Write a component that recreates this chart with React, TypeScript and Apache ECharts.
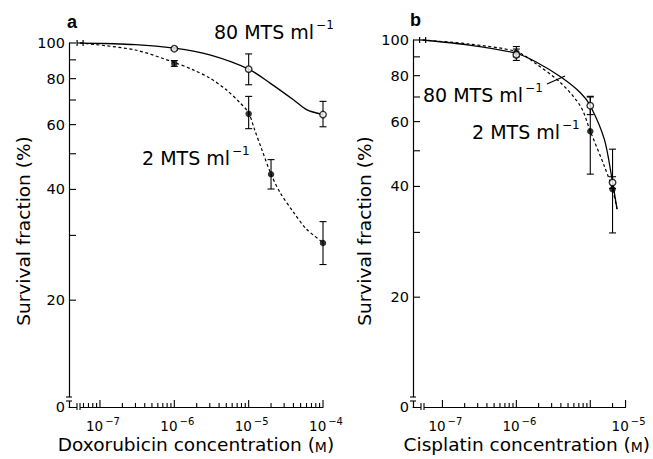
import React, { useEffect, useRef } from "react";
import * as echarts from "echarts";

const FONT = "DejaVu Sans";
const BLACK = "#000";

// Control (no drug) point drawn at the axis break
const CONTROL_X = 5.4e-8;
const CONTROL_Y = 100;

// ---------- Panel a: Doxorubicin ----------
const doxo80X = [1e-6, 1e-5, 1e-4];
const doxo80Y = [96.5, 84.9, 63.9];
const doxo80Lo = [95.7, 77.0, 59.2];
const doxo80Hi = [97.3, 93.4, 69.4];

const doxo2X = [1e-6, 1e-5, 2e-5, 1e-4];
const doxo2Y = [88.0, 64.2, 44.0, 28.6];
const doxo2Lo = [86.4, 58.5, 40.1, 25.0];
const doxo2Hi = [89.6, 71.6, 48.2, 32.7];

// fitted curves
const doxo80CurveX = [5.4e-8, 3e-7, 1e-6, 3e-6, 1e-5, 1.94e-5, 4e-5, 6e-5, 1e-4];
const doxo80CurveY = [100, 99, 96.8, 92.8, 84.9, 77.8, 70.1, 65.9, 63.9];
const doxo2CurveX = [5.4e-8, 3e-7, 1e-6, 1.8e-6, 3e-6, 5e-6, 7.7e-6, 1e-5, 1.2e-5, 1.5e-5, 2e-5, 2.65e-5, 4e-5, 6e-5, 1e-4];
const doxo2CurveY = [100, 95.7, 88.5, 84.5, 80.3, 74.6, 68.7, 64.6, 58.2, 51.4, 44.0, 39.2, 34.7, 31.2, 28.7];

// ---------- Panel b: Cisplatin ----------
const cis80X = [1e-6, 1e-5, 2e-5];
const cis80Y = [91.2, 66.3, 41.0];
const cis80Lo = [88, 62.7, 39.5];
const cis80Hi = [94.5, 70.3, 42.5];

const cis2X = [1e-6, 1e-5, 2e-5];
const cis2Y = [92.5, 56.5, 39.3];
const cis2Lo = [90, 43.2, 29.9];
const cis2Hi = [96, 70, 50.5];

const cis80CurveX = [5.4e-8, 2.3e-7, 1e-6, 1.8e-6, 4e-6, 7.4e-6, 1e-5, 1.55e-5, 2e-5, 2.3e-5];
const cis80CurveY = [100, 96.9, 92, 87.4, 79.3, 71.8, 66.3, 53.7, 41.1, 34.7];
const cis2CurveX = [5.4e-8, 2.3e-7, 1e-6, 1.8e-6, 4e-6, 7.4e-6, 1e-5, 1.55e-5, 2e-5, 2.3e-5];
const cis2CurveY = [100, 97.5, 93, 86.5, 76.4, 66, 56.5, 45.4, 39.3, 34.7];

// ---------- Axes ----------
const yMajorTicks = [20, 40, 60, 80, 100];
const yMinorTicks = [30, 50, 70, 90];
const TICK_MULTS = [2, 3, 4, 5, 6, 7, 8, 9];

const doxoXMin = 3.83e-8;
const doxoXMax = 1e-4;
const doxoYMin = 10.25;
const doxoMajorTicks = [1e-7, 1e-6, 1e-5, 1e-4];
const doxoMinorTicks = [6e-8, 7e-8, 8e-8, 9e-8].concat(
  [-7, -6, -5].flatMap((d) => TICK_MULTS.map((m) => m * Math.pow(10, d)))
);
const doxoLabelAt = [1e-7, 1e-6, 1e-5, 1e-4];
const doxoLabelExp = [-7, -6, -5, -4];

const cisXMin = 4e-8;
const cisXMax = 3e-5;
const cisYMin = 10.06;
const cisMajorTicks = [1e-7, 1e-6, 1e-5, 3e-5];
const cisMinorTicks = [-7, -6]
  .flatMap((d) => TICK_MULTS.map((m) => m * Math.pow(10, d)))
  .concat([2e-5]);
// as in the original figure, the "10^-5" label sits at the end of the axis
const cisLabelAt = [1e-7, 1e-6, 3e-5];
const cisLabelExp = [-7, -6, -5];

type Panel = {
  xMin: number;
  xMax: number;
  yMin: number;
  c80X: number[];
  c80Y: number[];
  c2X: number[];
  c2Y: number[];
  p80X: number[];
  p80Y: number[];
  p80Lo: number[];
  p80Hi: number[];
  p2X: number[];
  p2Y: number[];
  p2Lo: number[];
  p2Hi: number[];
  major: number[];
  minor: number[];
  labelAt: number[];
  labelExp: number[];
};

const panelA: Panel = {
  xMin: doxoXMin, xMax: doxoXMax, yMin: doxoYMin,
  c80X: doxo80CurveX, c80Y: doxo80CurveY, c2X: doxo2CurveX, c2Y: doxo2CurveY,
  p80X: doxo80X, p80Y: doxo80Y, p80Lo: doxo80Lo, p80Hi: doxo80Hi,
  p2X: doxo2X, p2Y: doxo2Y, p2Lo: doxo2Lo, p2Hi: doxo2Hi,
  major: doxoMajorTicks, minor: doxoMinorTicks, labelAt: doxoLabelAt, labelExp: doxoLabelExp,
};
const panelB: Panel = {
  xMin: cisXMin, xMax: cisXMax, yMin: cisYMin,
  c80X: cis80CurveX, c80Y: cis80CurveY, c2X: cis2CurveX, c2Y: cis2CurveY,
  p80X: cis80X, p80Y: cis80Y, p80Lo: cis80Lo, p80Hi: cis80Hi,
  p2X: cis2X, p2Y: cis2Y, p2Lo: cis2Lo, p2Hi: cis2Hi,
  major: cisMajorTicks, minor: cisMinorTicks, labelAt: cisLabelAt, labelExp: cisLabelExp,
};

const zip = (xs: number[], ys: number[]) => xs.map((x, i) => [x, ys[i]]);

const lineSt = (w = 1.2) => ({ stroke: BLACK, lineWidth: w });

function renderError(params: any, api: any) {
  const x = api.value(0);
  const top = api.coord([x, api.value(3)]);
  const bot = api.coord([x, api.value(2)]);
  const w = 3.5;
  return {
    type: "group",
    children: [
      { type: "line", shape: { x1: top[0], y1: top[1], x2: bot[0], y2: bot[1] }, style: lineSt(1.1) },
      { type: "line", shape: { x1: top[0] - w, y1: top[1], x2: top[0] + w, y2: top[1] }, style: lineSt(1.1) },
      { type: "line", shape: { x1: bot[0] - w, y1: bot[1], x2: bot[0] + w, y2: bot[1] }, style: lineSt(1.1) },
    ],
  };
}

function renderControl(params: any, api: any) {
  const p = api.coord([api.value(0), api.value(1)]);
  return {
    type: "group",
    children: [
      { type: "line", shape: { x1: p[0] - 3, y1: p[1], x2: p[0] + 3, y2: p[1] }, style: lineSt(1.2) },
      { type: "line", shape: { x1: p[0] - 3, y1: p[1] - 3, x2: p[0] - 3, y2: p[1] + 3 }, style: lineSt(1.2) },
      { type: "line", shape: { x1: p[0] + 3, y1: p[1] - 3, x2: p[0] + 3, y2: p[1] + 3 }, style: lineSt(1.2) },
    ],
  };
}

function renderYTick(params: any, api: any) {
  const v = api.value(1);
  const kind = api.value(2); // 0 minor, 1 major, 2 zero label
  const p = api.coord([api.value(0), v]);
  const children: any[] = [];
  if (kind !== 2) {
    children.push({ type: "line", shape: { x1: p[0], y1: p[1], x2: p[0] + 7, y2: p[1] }, style: lineSt(1.1) });
  }
  if (kind >= 1) {
    children.push({
      type: "text",
      x: p[0] - 4,
      y: p[1],
      style: {
        text: kind === 2 ? "0" : String(v),
        fontFamily: FONT,
        fontSize: 14.5,
        fill: BLACK,
        align: "right",
        verticalAlign: "middle",
      },
    });
  }
  return { type: "group", children };
}

function renderXTick(params: any, api: any) {
  const p = api.coord([api.value(0), api.value(1)]);
  const len = api.value(2) ? 7 : 4;
  return { type: "line", shape: { x1: p[0], y1: p[1], x2: p[0], y2: p[1] - len }, style: lineSt(1.1) };
}

function renderXLabel(params: any, api: any) {
  const p = api.coord([api.value(0), api.value(1)]);
  const exp = api.value(2);
  return {
    type: "text",
    x: p[0] + 3,
    y: p[1] + 17.5,
    style: {
      text: `{b|10}{s|\u2212${Math.abs(exp)}}`,
      align: "center",
      verticalAlign: "middle",
      rich: {
        b: { fontFamily: FONT, fontSize: 13.5, fill: BLACK, lineHeight: 16, verticalAlign: "bottom" },
        s: { fontFamily: FONT, fontSize: 10, fill: BLACK, lineHeight: 11, verticalAlign: "top", padding: [0, 0, 0, 2] },
      },
    },
  };
}

function renderBreaks(params: any, api: any) {
  const p = api.coord([api.value(0), api.value(1)]);
  return {
    type: "group",
    children: [
      // y-axis break
      { type: "rect", shape: { x: p[0] - 2, y: p[1] - 10, width: 4, height: 4 }, style: { fill: "#fff" } },
      { type: "line", shape: { x1: p[0] - 3, y1: p[1] - 10, x2: p[0] + 3, y2: p[1] - 10 }, style: lineSt(1.1) },
      { type: "line", shape: { x1: p[0] - 3, y1: p[1] - 6, x2: p[0] + 3, y2: p[1] - 6 }, style: lineSt(1.1) },
      // x-axis break
      { type: "rect", shape: { x: p[0] + 8, y: p[1] - 2, width: 3, height: 4 }, style: { fill: "#fff" } },
      { type: "line", shape: { x1: p[0] + 8, y1: p[1] - 4, x2: p[0] + 8, y2: p[1] + 3 }, style: lineSt(1.1) },
      { type: "line", shape: { x1: p[0] + 11, y1: p[1] - 4, x2: p[0] + 11, y2: p[1] + 3 }, style: lineSt(1.1) },
    ],
  };
}

function seriesFor(g: number, P: Panel): any[] {
  const ax = { xAxisIndex: g, yAxisIndex: g, silent: true };
  return [
    {
      ...ax,
      type: "line",
      name: "80 MTS ml-1 fit",
      data: zip(P.c80X, P.c80Y),
      smooth: 0.3,
      symbol: "none",
      lineStyle: { color: BLACK, width: 1.3 },
      z: 3,
    },
    {
      ...ax,
      type: "line",
      name: "2 MTS ml-1 fit",
      data: zip(P.c2X, P.c2Y),
      smooth: 0.3,
      symbol: "none",
      lineStyle: { color: BLACK, width: 1.2, type: [3, 2.5] },
      z: 3,
    },
    {
      ...ax,
      type: "custom",
      renderItem: renderError,
      data: [
        ...P.p80X.map((x, i) => [x, P.p80Y[i], P.p80Lo[i], P.p80Hi[i]]),
        ...P.p2X.map((x, i) => [x, P.p2Y[i], P.p2Lo[i], P.p2Hi[i]]),
      ],
      z: 4,
    },
    { ...ax, type: "custom", renderItem: renderControl, data: [[CONTROL_X, CONTROL_Y]], z: 4 },
    {
      ...ax,
      type: "scatter",
      name: "2 MTS ml-1",
      data: zip(P.p2X, P.p2Y),
      symbol: "circle",
      symbolSize: 6.5,
      itemStyle: { color: BLACK },
      z: 5,
    },
    {
      ...ax,
      type: "scatter",
      name: "80 MTS ml-1",
      data: zip(P.p80X, P.p80Y),
      symbol: "circle",
      symbolSize: 6.5,
      itemStyle: { color: "#fff", borderColor: BLACK, borderWidth: 1.4 },
      z: 6,
    },
    {
      ...ax,
      type: "custom",
      renderItem: renderYTick,
      data: [
        ...yMajorTicks.map((v) => [P.xMin, v, 1]),
        ...yMinorTicks.map((v) => [P.xMin, v, 0]),
        [P.xMin, P.yMin, 2],
      ],
      z: 7,
    },
    {
      ...ax,
      type: "custom",
      renderItem: renderXTick,
      data: [...P.major.map((v) => [v, P.yMin, 1]), ...P.minor.map((v) => [v, P.yMin, 0])],
      z: 7,
    },
    {
      ...ax,
      type: "custom",
      renderItem: renderXLabel,
      data: P.labelAt.map((v, i) => [v, P.yMin, P.labelExp[i]]),
      z: 7,
    },
    { ...ax, type: "custom", renderItem: renderBreaks, data: [[P.xMin, P.yMin]], z: 8 },
  ];
}

const axisLine = { show: true, lineStyle: { color: BLACK, width: 1.2 } };

function xAxisFor(g: number, P: Panel, name: string, padLeft: number) {
  return {
    gridIndex: g,
    type: "log",
    logBase: 10,
    min: P.xMin,
    max: P.xMax,
    axisLine,
    axisTick: { show: false },
    axisLabel: { show: false },
    splitLine: { show: false },
    minorTick: { show: false },
    name,
    nameLocation: "middle",
    nameGap: 28,
    nameTextStyle: {
      fontFamily: FONT,
      fontSize: 18.5,
      color: BLACK,
      verticalAlign: "top",
      padding: [0, 0, 0, padLeft],
      rich: { sc: { fontFamily: FONT, fontSize: 14, color: BLACK, verticalAlign: "bottom", lineHeight: 18 } },
    },
  };
}

function yAxisFor(g: number, P: Panel, gap: number, padRight: number) {
  return {
    gridIndex: g,
    type: "log",
    logBase: 10,
    min: P.yMin,
    max: 100,
    axisLine,
    axisTick: { show: false },
    axisLabel: { show: false },
    splitLine: { show: false },
    name: "Survival fraction (%)",
    nameLocation: "middle",
    nameRotate: 90,
    nameGap: gap,
    nameTextStyle: { fontFamily: FONT, fontSize: 18.5, color: BLACK, padding: [0, padRight, 0, 0] },
  };
}

function annot(x: number, y: number, num: string) {
  return {
    type: "text",
    x,
    y,
    style: {
      text: `{n|${num} MTS ml}{s|\u22121}`,
      align: "left",
      verticalAlign: "middle",
      rich: {
        n: { fontFamily: FONT, fontSize: 19, fill: BLACK, lineHeight: 22, verticalAlign: "bottom" },
        s: { fontFamily: FONT, fontSize: 12, fill: BLACK, lineHeight: 12, verticalAlign: "top", padding: [0, 0, 0, 2] },
      },
    },
    z: 20,
  };
}

function letter(x: number, y: number, t: string) {
  return {
    type: "text",
    x,
    y,
    style: {
      text: t,
      fontFamily: "Liberation Sans",
      fontWeight: "bold",
      fontSize: 18,
      fill: BLACK,
      align: "left",
      verticalAlign: "middle",
    },
    z: 20,
  };
}

export default function App() {
  const ref = useRef<HTMLDivElement>(null);

  useEffect(() => {
    if (!ref.current) return;
    const chart = echarts.init(ref.current, undefined, { renderer: "svg" });
    chart.setOption({
      animation: false,
      backgroundColor: "#fff",
      textStyle: { fontFamily: FONT },
      grid: [
        { left: 69, top: 43, width: 254, height: 366 },
        { left: 413, top: 40, width: 215, height: 369 },
      ],
      xAxis: [
        xAxisFor(0, panelA, "Doxorubicin concentration ({sc|M})", 0),
        xAxisFor(1, panelB, "Cisplatin concentration ({sc|M})", 15),
      ],
      yAxis: [yAxisFor(0, panelA, 36, 12), yAxisFor(1, panelB, 39, 15)],
      series: [...seriesFor(0, panelA), ...seriesFor(1, panelB)],
      graphic: [
        letter(67, 22, "a"),
        letter(410, 20, "b"),
        annot(214, 30, "80"),
        annot(142, 156, "2"),
        annot(423, 93, "80"),
        annot(472, 130, "2"),
        {
          type: "line",
          shape: { x1: 547, y1: 84, x2: 565, y2: 76 },
          style: { stroke: BLACK, lineWidth: 1.1 },
          z: 20,
        },
      ],
    });
    return () => chart.dispose();
  }, []);

  return (
    <div
      ref={ref}
      style={{ position: "fixed", left: 0, top: 0, width: 653, height: 459, background: "#fff" }}
    />
  );
}
